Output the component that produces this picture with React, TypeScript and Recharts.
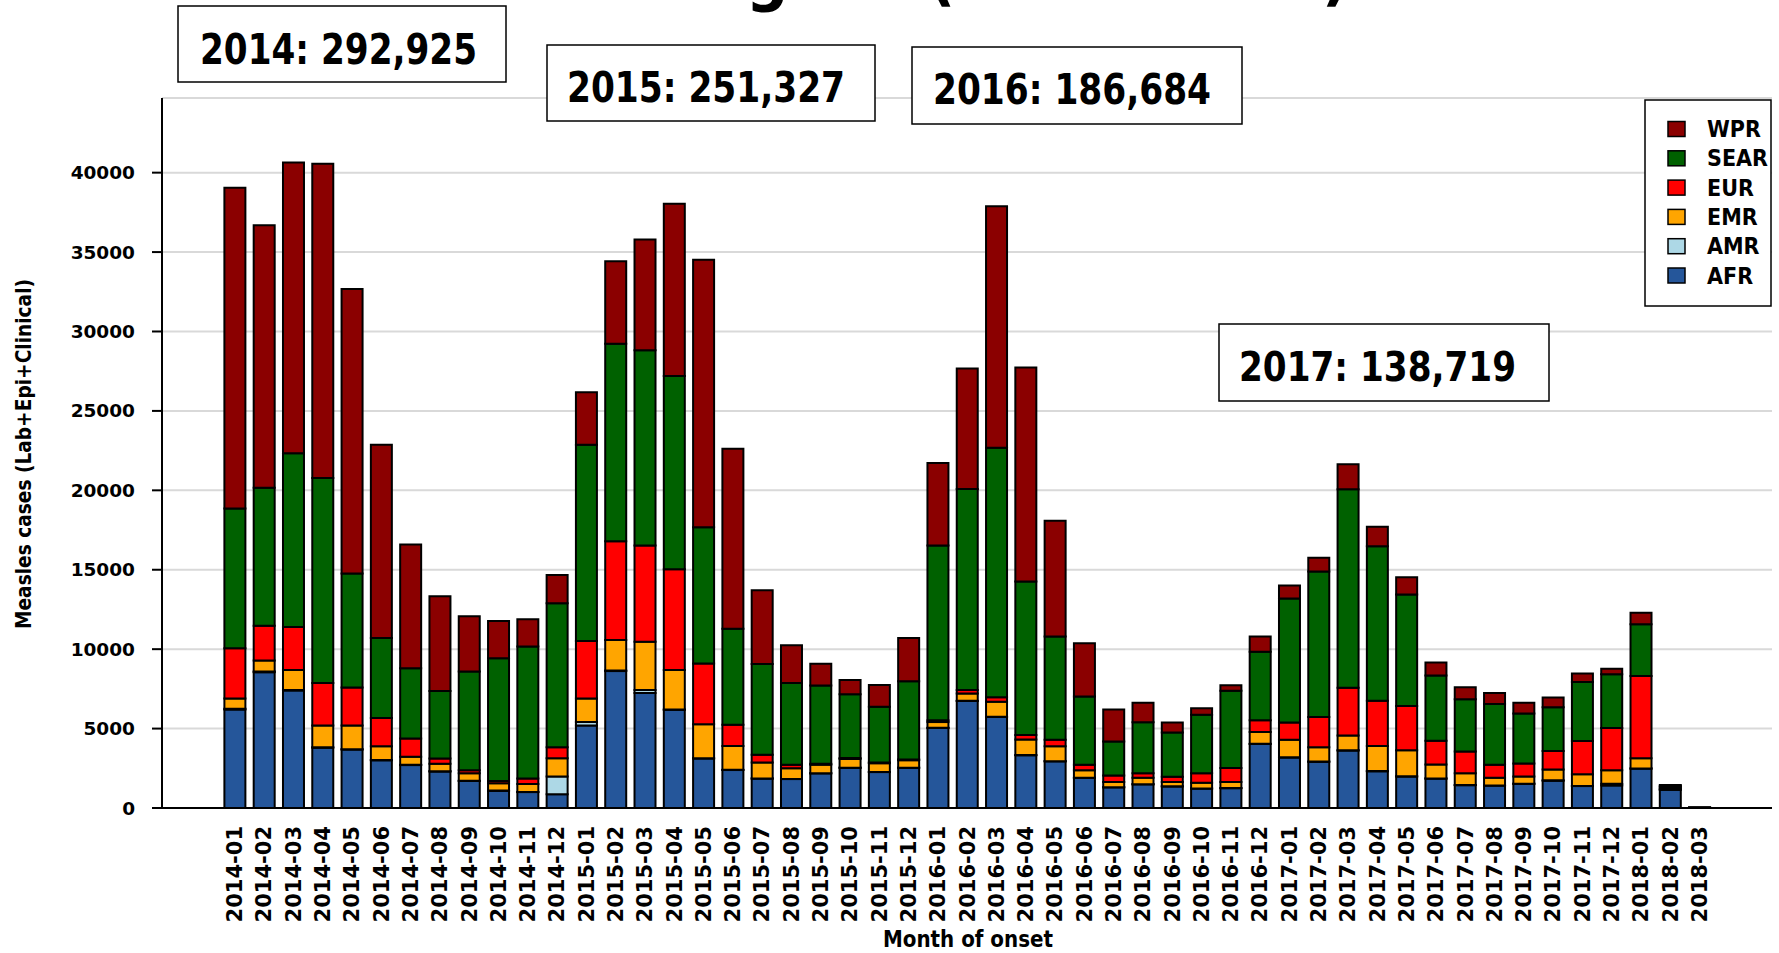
import React from 'react';
import { BarChart, Bar, XAxis, YAxis, CartesianGrid } from 'recharts';

const MONTHS = [
  '2014-01', '2014-02', '2014-03', '2014-04', '2014-05', '2014-06',
  '2014-07', '2014-08', '2014-09', '2014-10', '2014-11', '2014-12',
  '2015-01', '2015-02', '2015-03', '2015-04', '2015-05', '2015-06',
  '2015-07', '2015-08', '2015-09', '2015-10', '2015-11', '2015-12',
  '2016-01', '2016-02', '2016-03', '2016-04', '2016-05', '2016-06',
  '2016-07', '2016-08', '2016-09', '2016-10', '2016-11', '2016-12',
  '2017-01', '2017-02', '2017-03', '2017-04', '2017-05', '2017-06',
  '2017-07', '2017-08', '2017-09', '2017-10', '2017-11', '2017-12',
  '2018-01', '2018-02', '2018-03',
];

// cases per region, one value per month
const AFR = [
  6200, 8550, 7400, 3800, 3680, 3000, 2700, 2300, 1700, 1080, 1000, 870,
  5190, 8620, 7240, 6180, 3120, 2390, 1850, 1820, 2180, 2530, 2260, 2530,
  5040, 6740, 5730, 3320, 2940, 1900, 1300, 1490, 1360, 1220, 1250, 4030,
  3180, 2910, 3620, 2310, 1980, 1850, 1440, 1410, 1520, 1720, 1380, 1420,
  2480, 1150, 15,
];
const AMR = [
  50, 50, 30, 25, 20, 20, 20, 20, 20, 15, 15, 1120,
  220, 40, 190, 20, 20, 15, 10, 10, 10, 10, 10, 10,
  15, 10, 10, 10, 10, 10, 10, 10, 10, 10, 10, 10,
  15, 15, 15, 15, 15, 10, 10, 10, 10, 20, 10, 100,
  10, 10, 2,
];
const EMR = [
  650, 680, 1260, 1370, 1500, 860, 500, 460, 460, 460, 490, 1150,
  1480, 1910, 3030, 2490, 2130, 1500, 1010, 680, 540, 550, 550, 470,
  355, 465, 955, 985, 930, 465, 330, 410, 270, 355, 380, 740,
  1095, 900, 930, 1580, 1640, 875, 740, 490, 450, 680, 740, 850,
  640, 60, 2,
];
const EUR = [
  3150, 2190, 2700, 2680, 2380, 1780, 1150, 330, 190, 140, 355, 680,
  3630, 6230, 6070, 6340, 3830, 1340, 490, 220, 55, 55, 50, 50,
  110, 220, 275, 275, 410, 355, 410, 270, 330, 600, 875, 740,
  1090, 1910, 3000, 2840, 2790, 1500, 1370, 820, 820, 1170, 2090, 2660,
  5180, 90, 2,
];
const SEAR = [
  8800, 8690, 10950, 12900, 7180, 5050, 4430, 4260, 6230, 7730, 8300, 9070,
  12350, 12430, 12290, 12160, 8580, 6040, 5710, 5140, 4920, 4020, 3500, 4920,
  11010, 12650, 15710, 9670, 6500, 4290, 2130, 3220, 2790, 3690, 4860, 4320,
  7810, 9150, 12510, 9730, 7020, 4100, 3280, 3825, 3150, 2760, 3720, 3390,
  3260, 80, 2,
];
const WPR = [
  20200, 16530, 18300, 19780, 17920, 12160, 7790, 5960, 3470, 2350, 1720, 1780,
  3310, 5190, 6970, 10850, 16830, 11340, 4645, 2380, 1370, 900, 1370, 2730,
  5190, 7590, 15210, 13470, 7300, 3360, 2020, 1230, 630, 410, 355, 955,
  820, 875, 1560, 1230, 1090, 820, 765, 680, 680, 600, 530, 340,
  725, 60, 2,
];

const Y_TICKS = [0, 5000, 10000, 15000, 20000, 25000, 30000, 35000, 40000];

const YEAR_TOTALS = ['2014: 292,925', '2015: 251,327', '2016: 186,684', '2017: 138,719'];

// stacked bottom to top
const SERIES = [
  { key: 'AFR', values: AFR, color: '#25569A' },
  { key: 'AMR', values: AMR, color: '#ADD8E6' },
  { key: 'EMR', values: EMR, color: '#FFA500' },
  { key: 'EUR', values: EUR, color: '#FF0000' },
  { key: 'SEAR', values: SEAR, color: '#006100' },
  { key: 'WPR', values: WPR, color: '#8B0000' },
];

const NARROW = "'Liberation Sans Narrow', 'DejaVu Sans Condensed', 'Noto Sans', sans-serif";
const WIDE = "'DejaVu Sans', Verdana, sans-serif";

const data = MONTHS.map((month, i) => {
  const row: Record<string, string | number> = { month };
  SERIES.forEach((s) => {
    row[s.key] = s.values[i];
  });
  return row;
});

const MonthTick = (props: any) => {
  const { x, y, payload } = props;
  const ty = y + 18;
  return (
    <text
      x={x}
      y={ty}
      transform={`rotate(-90, ${x}, ${ty})`}
      textAnchor="end"
      dy="0.36em"
      fontFamily={WIDE}
      fontSize={21}
      fontWeight="bold"
      fill="#000"
    >
      {payload.value}
    </text>
  );
};

// the four year-total boxes
const BOXES = [
  { label: YEAR_TOTALS[0], x: 178, y: 6, w: 328, h: 76, tx: 200, ty: 64, tw: 277, font: NARROW, size: 42 },
  { label: YEAR_TOTALS[1], x: 547, y: 45, w: 328, h: 76, tx: 567, ty: 102, tw: 278, font: NARROW, size: 42 },
  { label: YEAR_TOTALS[2], x: 912, y: 47, w: 330, h: 77, tx: 933, ty: 104, tw: 278, font: NARROW, size: 42 },
  { label: YEAR_TOTALS[3], x: 1219, y: 324, w: 330, h: 77, tx: 1239, ty: 381, tw: 277, font: WIDE, size: 40 },
];

export default function App() {
  const legendItems = [...SERIES].reverse();
  return (
    <div
      style={{
        position: 'absolute',
        left: 0,
        top: 0,
        width: 1779,
        height: 953,
        overflow: 'hidden',
        background: '#fff',
      }}
    >
      <BarChart
        width={1779}
        height={953}
        data={data}
        margin={{ top: 98, right: 7, left: 62, bottom: 0 }}
        barCategoryGap="15%"
      >
        <CartesianGrid vertical={false} stroke="#D9D9D9" strokeWidth={2} />
        <XAxis
          dataKey="month"
          interval={0}
          height={145}
          padding={{ left: 58, right: 58 }}
          tickLine={false}
          tickSize={0}
          tickMargin={0}
          axisLine={{ stroke: '#000', strokeWidth: 2 }}
          tick={<MonthTick />}
        />
        <YAxis
          width={100}
          domain={[0, 44700]}
          ticks={Y_TICKS}
          interval={0}
          tickSize={10}
          tickMargin={17}
          axisLine={{ stroke: '#000', strokeWidth: 2 }}
          tickLine={{ stroke: '#000', strokeWidth: 2 }}
          tick={{ fontFamily: WIDE, fontSize: 18.5, fontWeight: 'bold', fill: '#000' }}
        />
        {SERIES.map((s) => (
          <Bar
            key={s.key}
            dataKey={s.key}
            stackId="a"
            fill={s.color}
            stroke="#000"
            strokeWidth={2}
            isAnimationActive={false}
          />
        ))}
      </BarChart>

      <svg
        width={1779}
        height={953}
        style={{ position: 'absolute', left: 0, top: 0, pointerEvents: 'none' }}
      >
        {/* title, cut off by the top edge as in the source image */}
        <g fontFamily={NARROW} fontWeight="bold" fontSize={66} fill="#000">
          <text x={746} y={-2}>g</text>
          <text x={928} y={-2}>(</text>
          <text x={1322} y={-2}>)</text>
        </g>

        {BOXES.map((b) => (
          <g key={b.label}>
            <rect x={b.x} y={b.y} width={b.w} height={b.h} fill="#fff" stroke="#000" strokeWidth={1.5} />
            <text
              x={b.tx}
              y={b.ty}
              fontFamily={b.font}
              fontSize={b.size}
              fontWeight="bold"
              fill="#000"
              textLength={b.tw}
              lengthAdjust="spacingAndGlyphs"
            >
              {b.label}
            </text>
          </g>
        ))}

        <text
          x={23}
          y={454}
          transform="rotate(-90, 23, 454)"
          textAnchor="middle"
          dominantBaseline="central"
          fontFamily={NARROW}
          fontSize={22}
          fontWeight="bold"
          fill="#000"
          textLength={350}
          lengthAdjust="spacingAndGlyphs"
        >
          Measles cases (Lab+Epi+Clinical)
        </text>

        <text
          x={968}
          y={947}
          textAnchor="middle"
          fontFamily={NARROW}
          fontSize={23}
          fontWeight="bold"
          fill="#000"
          textLength={170}
          lengthAdjust="spacingAndGlyphs"
        >
          Month of onset
        </text>

        {/* legend */}
        <rect x={1645} y={100} width={126} height={206} fill="#fff" stroke="#000" strokeWidth={1.5} />
        {legendItems.map((s, i) => {
          const cy = 129 + i * 29.3;
          return (
            <g key={s.key}>
              <rect x={1668} y={cy - 7.5} width={17} height={15} fill={s.color} stroke="#000" strokeWidth={1.5} />
              <text
                x={1707}
                y={cy}
                dominantBaseline="central"
                fontFamily={NARROW}
                fontSize={23}
                fontWeight="bold"
                fill="#000"
              >
                {s.key}
              </text>
            </g>
          );
        })}
      </svg>
    </div>
  );
}
